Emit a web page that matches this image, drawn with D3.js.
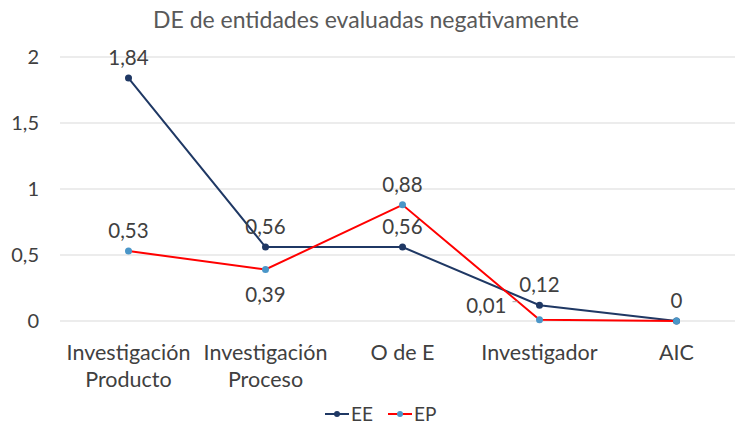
<!DOCTYPE html>
<html>
<head>
<meta charset="utf-8">
<script src="https://cdn.jsdelivr.net/npm/d3@7"></script>
<style>
  body { margin: 0; background: #fff; }
  text { font-family: Lato, "Open Sans", sans-serif; }
</style>
</head>
<body>
<svg id="chart"></svg>
<script>
// chart data
var categories = ["Investigación\nProducto", "Investigación\nProceso", "O de E", "Investigador", "AIC"];
var eeValues = [1.84, 0.56, 0.56, 0.12, 0];
var epValues = [0.53, 0.39, 0.88, 0.01, 0];
var yTicks = [0, 0.5, 1, 1.5, 2];
var eeLabelPos = ["above", "above", "above", "above", "above"];
var epLabelPos = ["above", "below", "above", "left", "none"];

var width = 735, height = 429;
var svg = d3.select("#chart").attr("width", width).attr("height", height);

var x = d3.scalePoint().domain(categories).range([60, 745]).padding(0.5);
var y = d3.scaleLinear().domain([0, 2]).range([321, 57]);

var fmt = function (v) { return String(v).replace(".", ","); };

// title
svg.append("text")
    .attr("x", 366).attr("y", 28)
    .attr("text-anchor", "middle")
    .attr("font-size", 23)
    .attr("fill", "#595959")
    .text("DE de entidades evaluadas negativamente");

// gridlines
svg.append("g").selectAll("line")
    .data(yTicks).enter()
    .append("line")
    .attr("x1", 60).attr("x2", 735)
    .attr("y1", function (d) { return y(d); })
    .attr("y2", function (d) { return y(d); })
    .attr("stroke", "#d9d9d9")
    .attr("stroke-width", 1);

// y axis labels
var yAxis = d3.axisLeft(y).tickValues(yTicks).tickSize(0).tickPadding(0)
    .tickFormat(fmt);
svg.append("g")
    .attr("transform", "translate(39,0)")
    .call(yAxis)
    .call(function (g) { g.select(".domain").remove(); })
    .selectAll("text")
    .attr("font-size", 20)
    .attr("font-family", "Lato, 'Open Sans', sans-serif")
    .attr("fill", "#404040");

// x axis labels
var xl = svg.append("g").selectAll("text")
    .data(categories).enter()
    .append("text")
    .attr("text-anchor", "middle")
    .attr("font-size", 21.5)
    .attr("fill", "#404040")
    .attr("x", function (d) { return x(d); })
    .attr("y", 360);
xl.selectAll("tspan")
    .data(function (d) { return d.split("\n").map(function (t) { return { t: t, c: d }; }); })
    .enter().append("tspan")
    .attr("x", function (d) { return x(d.c); })
    .attr("dy", function (d, i) { return i ? 27 : 0; })
    .text(function (d) { return d.t; });

var line = d3.line()
    .x(function (d, i) { return x(categories[i]); })
    .y(function (d) { return y(d); });

var series = [
  { name: "EE", values: eeValues, stroke: "#1f3864", marker: "#1f3864", pos: eeLabelPos },
  { name: "EP", values: epValues, stroke: "#ff0000", marker: "#4a96c8", pos: epLabelPos }
];

series.forEach(function (s) {
  svg.append("path")
      .datum(s.values)
      .attr("d", line)
      .attr("fill", "none")
      .attr("stroke", s.stroke)
      .attr("stroke-width", 2);
});

series.forEach(function (s) {
  svg.append("g").selectAll("circle")
      .data(s.values).enter()
      .append("circle")
      .attr("cx", function (d, i) { return x(categories[i]); })
      .attr("cy", function (d) { return y(d); })
      .attr("r", 3.5)
      .attr("fill", s.marker);
});

// data labels
series.forEach(function (s) {
  svg.append("g").selectAll("text")
      .data(s.values.map(function (v, i) { return { v: v, i: i, p: s.pos[i] }; })
            .filter(function (d) { return d.p !== "none"; }))
      .enter().append("text")
      .attr("font-size", 20.5)
      .attr("fill", "#404040")
      .attr("text-anchor", function (d) { return d.p === "left" ? "end" : "middle"; })
      .attr("x", function (d) {
        var cx = x(categories[d.i]);
        return d.p === "left" ? cx - 33 : cx;
      })
      .attr("y", function (d) {
        var cy = y(d.v);
        if (d.p === "below") return cy + 32;
        if (d.p === "left") return cy - 7;
        return cy - 13;
      })
      .text(function (d) { return fmt(d.v); });
});

// small leader line for the 0,01 label
svg.append("line")
    .attr("x1", x(categories[3]) - 27).attr("x2", x(categories[3]) - 22)
    .attr("y1", y(epValues[3]) - 18).attr("y2", y(epValues[3]) - 18)
    .attr("stroke", "#a6a6a6").attr("stroke-width", 1);

// legend
var legend = svg.append("g").attr("transform", "translate(0,414)");
var legendX = [325, 388];
series.forEach(function (s, i) {
  var g = legend.append("g").attr("transform", "translate(" + legendX[i] + ",0)");
  g.append("line").attr("x1", 0).attr("x2", 24).attr("y1", 0).attr("y2", 0)
      .attr("stroke", s.stroke).attr("stroke-width", 2);
  g.append("circle").attr("cx", 12).attr("cy", 0).attr("r", 3).attr("fill", s.marker);
  g.append("text").attr("x", 26).attr("y", 7)
      .attr("font-size", 19).attr("fill", "#404040").text(s.name);
});
</script>
</body>
</html>
